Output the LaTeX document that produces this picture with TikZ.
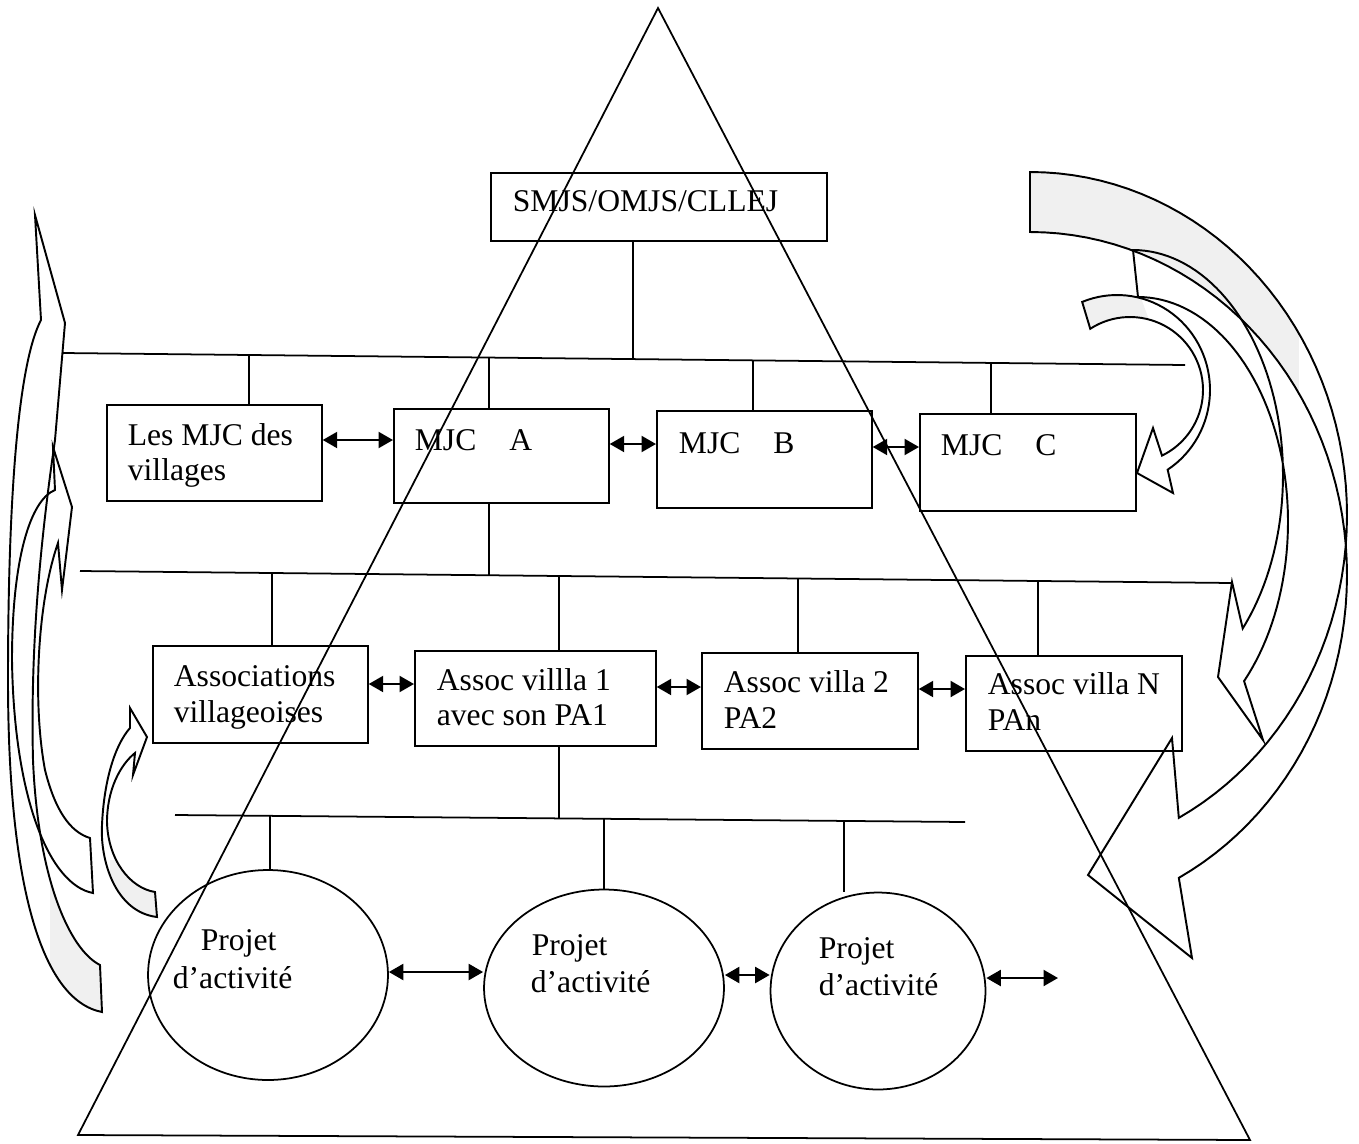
\documentclass[tikz,border=0pt]{standalone}
\usepackage{fontspec}
\setmainfont{Liberation Serif}
\usetikzlibrary{arrows.meta,shapes.geometric}
\begin{document}
\begin{tikzpicture}[x=0.02cm,y=-0.02cm,line width=1pt,
  box/.style={draw, inner sep=0pt, anchor=north west},
  oval/.style={draw, ellipse, inner sep=0pt},
  txt/.style={inner sep=0pt, anchor=base west, font=\fontsize{18}{21}\selectfont},
  dbl/.style={{Triangle[length=0.29cm,width=0.32cm]}-{Triangle[length=0.29cm,width=0.32cm]}, line width=1.3pt},
  blk/.style={line width=1.1pt, line join=miter},
  shd/.style={fill=black!6},
]
\useasboundingbox (0,0) rectangle (1359,1143);

% ---------- shading of the ribbon backs ----------
\fill[shd] plot[domain=90:32,samples=40,variable=\t] ({1030+317*cos(\t)},{515-343*sin(\t)})
  -- plot[domain=32:90,samples=40,variable=\t] ({1030+317*cos(\t)},{575-343*sin(\t)}) -- cycle;
\fill[shd] plot[domain=112:75,samples=20,variable=\t] ({1117+93*cos(\t)},{390-95*sin(\t)})
  -- plot[domain=75:123,samples=20,variable=\t] ({1130+73*cos(\t)},{390-73*sin(\t)}) -- cycle;
\begin{scope}
  \clip (50,850) rectangle (110,1015);
  \fill[shd] (100,965) -- (102,1012) .. controls (40,1000) and (8,880) .. (8,680)
    -- (33,760) .. controls (38,880) and (70,950) .. (100,965) -- cycle;
\end{scope}
\begin{scope}
  \clip (110,860) rectangle (160,920);
  \fill[shd] (155,892) -- (157,917) .. controls (115,912) and (100,860) .. (102,825)
    -- (107,822) .. controls (108,860) and (130,888) .. (155,892) -- cycle;
\end{scope}

% ---------- boxes ----------
\node[box, minimum width=6.72cm, minimum height=1.36cm] (smjs) at (490,172) {};
\node[box, minimum width=4.30cm, minimum height=1.92cm] (lesmjc) at (106,404) {};
\node[box, minimum width=4.30cm, minimum height=1.88cm] (mjca) at (393,408) {};
\node[box, minimum width=4.30cm, minimum height=1.94cm] (mjcb) at (656,410) {};
\node[box, minimum width=4.32cm, minimum height=1.94cm] (mjcc) at (919,413) {};
\node[box, minimum width=4.30cm, minimum height=1.94cm] (assoc) at (152,645) {};
\node[box, minimum width=4.82cm, minimum height=1.90cm] (av1) at (414,650) {};
\node[box, minimum width=4.32cm, minimum height=1.92cm] (av2) at (701,652) {};
\node[box, minimum width=4.32cm, minimum height=1.90cm] (avn) at (965,655) {};
\node[oval, minimum width=4.80cm, minimum height=4.20cm] (e1) at (268,975) {};
\node[oval, minimum width=4.80cm, minimum height=3.94cm] (e2) at (604,988) {};
\node[oval, minimum width=4.30cm, minimum height=3.94cm] (e3) at (878,991) {};

% ---------- texts ----------
\node[txt] (smjsT) at (512,211) {SMJS/OMJS/CLLEJ};
\node[txt] (lesT1) at (127,445) {Les MJC des};
\node[txt] (lesT2) at (127,480) {villages};
\node[txt] (mjcaT) at (414,450) {MJC\hspace{0.66cm}A};
\node[txt] (mjcbT) at (678,453) {MJC\hspace{0.66cm}B};
\node[txt] (mjccT) at (940,455) {MJC\hspace{0.66cm}C};
\node[txt] (assocT1) at (173,686) {Associations};
\node[txt] (assocT2) at (173,722) {villageoises};
\node[txt] (av1T1) at (436,690) {Assoc villla 1};
\node[txt] (av1T2) at (436,725) {avec son PA1};
\node[txt] (av2T1) at (723,692) {Assoc villa 2};
\node[txt] (av2T2) at (723,728) {PA2};
\node[txt] (avnT1) at (987,694) {Assoc villa N};
\node[txt] (avnT2) at (987,730) {PAn};
\node[txt] (e1T1) at (200,950) {Projet};
\node[txt] (e1T2) at (172,988) {d’activité};
\node[txt] (e2T1) at (531,955) {Projet};
\node[txt] (e2T2) at (530,992) {d’activité};
\node[txt] (e3T1) at (818,958) {Projet};
\node[txt] (e3T2) at (818,995) {d’activité};

% ---------- tree lines ----------
\coordinate (b1L) at (63,353); \coordinate (b1R) at (1185,365);
\draw (b1L) -- (b1R);
\coordinate (d0) at (633,359);
\draw (smjs.south -| d0) -- (d0);
\coordinate (d1) at (249,355); \draw (d1) -- (d1 |- lesmjc.north);
\coordinate (d2) at (489,358); \draw (d2) -- (d2 |- mjca.north);
\coordinate (d3) at (753,361); \draw (d3) -- (d3 |- mjcb.north);
\coordinate (d4) at (991,363); \draw (d4) -- (d4 |- mjcc.north);

\coordinate (b2L) at (80,571); \coordinate (b2R) at (1232,583);
\draw (b2L) -- (b2R);
\coordinate (u0) at (489,575);
\draw (mjca.south -| u0) -- (u0);
\coordinate (u1) at (272,573); \draw (u1) -- (u1 |- assoc.north);
\coordinate (u2) at (559,576); \draw (u2) -- (u2 |- av1.north);
\coordinate (u3) at (798,578); \draw (u3) -- (u3 |- av2.north);
\coordinate (u4) at (1038,581); \draw (u4) -- (u4 |- avn.north);

\coordinate (b3L) at (175,815); \coordinate (b3R) at (965,822);
\draw (b3L) -- (b3R);
\coordinate (v0) at (559,818);
\draw (av1.south -| v0) -- (v0);
\coordinate (v1) at (270,816); \draw (v1) -- (v1 |- e1.north);
\coordinate (v2) at (604,819); \draw (v2) -- (v2 |- e2.north);
\coordinate (v3) at (844,821); \draw (v3) -- (v3 |- e3.north);

% ---------- double arrows ----------
\coordinate (h1) at (0,440); \draw[dbl] (lesmjc.east |- h1) -- (mjca.west |- h1);
\coordinate (h2) at (0,444); \draw[dbl] (mjca.east |- h2) -- (mjcb.west |- h2);
\coordinate (h3) at (0,447); \draw[dbl] (mjcb.east |- h3) -- (mjcc.west |- h3);
\coordinate (h4) at (0,684); \draw[dbl] (assoc.east |- h4) -- (av1.west |- h4);
\coordinate (h5) at (0,687); \draw[dbl] (av1.east |- h5) -- (av2.west |- h5);
\coordinate (h6) at (0,689); \draw[dbl] (av2.east |- h6) -- (avn.west |- h6);
\coordinate (h7) at (0,972); \draw[dbl] (e1.east |- h7) -- (e2.west |- h7);
\coordinate (h8) at (0,975); \draw[dbl] (e2.east |- h8) -- (e3.west |- h8);
\coordinate (fe) at (1058,978); \draw[dbl] (e3.east |- fe) -- (fe);

% ---------- pyramid ----------
\coordinate (apex) at (658,8);
\coordinate (pl) at (78,1135);
\coordinate (pr) at (1250,1140);
\draw (apex) -- (pl) -- (pr) -- cycle;

% ---------- curved block arrows, right ----------
\draw[blk] plot[domain=90:-62,samples=60,variable=\t] ({1030+317*cos(\t)},{515-343*sin(\t)})
  -- (1172,738) -- (1088,875) -- (1192,958)
  -- plot[domain=-62:90,samples=60,variable=\t] ({1030+317*cos(\t)},{575-343*sin(\t)}) -- cycle;
\draw[blk] plot[domain=90:-43,samples=60,variable=\t] ({1133+150*cos(\t)},{475-225*sin(\t)})
  -- (1232,582) -- (1218,677) -- (1263,740)
  -- plot[domain=-45:90,samples=60,variable=\t] ({1138+150*cos(\t)},{522-225*sin(\t)}) -- cycle;
\draw[blk] plot[domain=112:-57,samples=50,variable=\t] ({1117+93*cos(\t)},{390-95*sin(\t)})
  -- (1173,493) -- (1137,473) -- (1153,428)
  -- plot[domain=-64:123,samples=50,variable=\t] ({1130+73*cos(\t)},{390-73*sin(\t)}) -- cycle;

% ---------- curved block arrows, left ----------
\draw[blk] (100,965) -- (102,1012) .. controls (40,1000) and (8,880) .. (8,680)
  .. controls (8,480) and (20,360) .. (41,320) -- (35,215) -- (65,323) -- (55,440)
  .. controls (42,530) and (30,640) .. (33,760) .. controls (38,880) and (70,950) .. (100,965) -- cycle;
\draw[blk] (90,838) -- (93,893) .. controls (50,885) and (14,800) .. (12,660)
  .. controls (12,560) and (30,500) .. (55,490) -- (53,447) -- (72,507) -- (62,590) -- (58,543)
  .. controls (38,600) and (32,700) .. (45,770) .. controls (55,810) and (70,832) .. (90,838) -- cycle;
\draw[blk] (155,892) -- (157,917) .. controls (115,912) and (100,860) .. (102,825)
  .. controls (104,780) and (115,745) .. (130,728) -- (130,708) -- (147,737) -- (133,775) -- (135,753)
  .. controls (120,765) and (107,790) .. (107,822) .. controls (108,860) and (130,888) .. (155,892) -- cycle;
\end{tikzpicture}
\end{document}
